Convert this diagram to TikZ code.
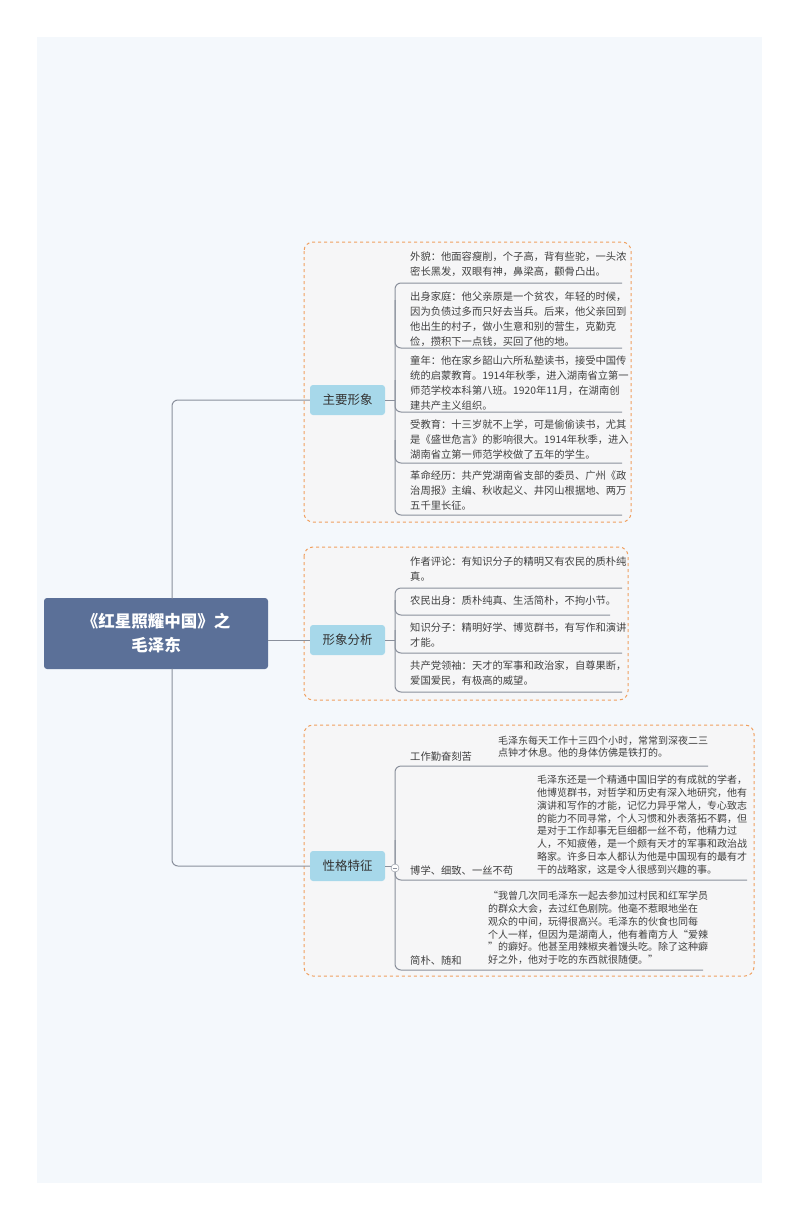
\documentclass[tikz,border=0pt]{standalone}
\usepackage{fontspec}
\setmainfont{Noto Sans CJK SC}
\definecolor{rootc}{HTML}{5B7098}
\definecolor{brc}{HTML}{A7D8EA}
\definecolor{bgc}{HTML}{F4F8FC}
\definecolor{grpf}{HTML}{F6F6F7}
\definecolor{linec}{HTML}{8A909C}
\definecolor{orc}{HTML}{F0A060}
\begin{document}
\begin{tikzpicture}[x=1pt,y=-1pt,
  conn/.style={draw=linec, line width=1pt, rounded corners=6pt},
  grp/.style={draw=orc, dashed, line width=1pt, rounded corners=9pt, fill=grpf},
  br/.style={fill=brc, text=black!80, rounded corners=3pt, minimum width=75pt, minimum height=30pt, font=\fontsize{12.5}{14}\selectfont, inner sep=0pt},
  lf/.style={anchor=north west, inner sep=0pt, align=left, text=black!75, font=\fontsize{10.3}{15}\selectfont},
  sl/.style={anchor=north west, inner sep=0pt, align=left, text=black!75, font=\fontsize{10}{12.8}\selectfont},
  lab/.style={anchor=base west, inner sep=0pt, text=black!75, font=\fontsize{10.3}{12}\selectfont}]
\useasboundingbox (0,0) rectangle (800,1220);
\fill[white] (0,0) rectangle (800,1220);
\fill[bgc] (37,37) rectangle (762,1183);
% groups
\draw[grp] (304,242) rectangle (631,522);
\draw[grp] (304,547) rectangle (628,700);
\draw[grp] (304,725) rectangle (754,976);
% root
\node[fill=rootc, text=white, rounded corners=3pt, minimum width=224pt, minimum height=71pt, align=center, font=\bfseries\fontsize{16.5}{24}\selectfont] (root) at (156,633.5) {《红星照耀中国》之\\毛泽东};
\node[br] (b1) at (347.5,400) {主要形象};
\node[br] (b2) at (347.5,640) {形象分析};
\node[br] (b3) at (347.5,866) {性格特征};
\coordinate (rt) at (172,598.5);
\draw[conn] (rt) |- (b1.west);
\coordinate (rb) at (172,668.5);
\draw[conn] (rb) |- (b3.west);
\draw[conn] (root.east |- b2) -- (b2.west);
% group 1
\coordinate (g1a) at (395,283); \coordinate (g1ae) at (622,283);
\coordinate (g1b) at (395,348); \coordinate (g1be) at (622,348);
\coordinate (g1c) at (395,412); \coordinate (g1ce) at (622,412);
\coordinate (g1d) at (395,463); \coordinate (g1de) at (622,463);
\coordinate (g1e) at (395,515); \coordinate (g1ee) at (622,515);
\draw[conn] (b1.east) -- (395,400);
\draw[conn] (g1ae) -- (g1a) -- (g1e) -- (g1ee);
\draw[conn] (395,300) |- (g1be);
\draw[conn] (395,380) |- (g1ce);
\draw[conn] (395,440) |- (g1de);
\node[lf] (t11) at (410,252) {外貌：他面容瘦削，个子高，背有些驼，一头浓\\密长黑发，双眼有神，鼻梁高，颧骨凸出。};
\node[lf] (t12) at (410,292) {出身家庭：他父亲原是一个贫农，年轻的时候，\\因为负债过多而只好去当兵。后来，他父亲回到\\他出生的村子，做小生意和别的营生，克勤克\\俭，攒积下一点钱，买回了他的地。};
\node[lf] (t13) at (410,356) {童年：他在家乡韶山六所私塾读书，接受中国传\\统的启蒙教育。1914年秋季，进入湖南省立第一\\师范学校本科第八班。1920年11月，在湖南创\\建共产主义组织。};
\node[lf] (t14) at (410,420) {受教育：十三岁就不上学，可是偷偷读书，尤其\\是《盛世危言》的影响很大。1914年秋季，进入\\湖南省立第一师范学校做了五年的学生。};
\node[lf] (t15) at (410,471) {革命经历：共产党湖南省支部的委员、广州《政\\治周报》主编、秋收起义、井冈山根据地、两万\\五千里长征。};
% group 2
\coordinate (g2a) at (395,588); \coordinate (g2ae) at (622,588);
\coordinate (g2b) at (395,615); \coordinate (g2be) at (610,615);
\coordinate (g2c) at (395,653); \coordinate (g2ce) at (622,653);
\coordinate (g2d) at (395,692); \coordinate (g2de) at (622,692);
\draw[conn] (b2.east) -- (395,640);
\draw[conn] (g2ae) -- (g2a) -- (g2d) -- (g2de);
\draw[conn] (395,600) |- (g2be);
\draw[conn] (395,630) |- (g2ce);
\node[lf] (t21) at (410,557) {作者评论：有知识分子的精明又有农民的质朴纯\\真。};
\node[lf] (t22) at (410,596) {农民出身：质朴纯真、生活简朴，不拘小节。};
\node[lf] (t23) at (410,623) {知识分子：精明好学、博览群书，有写作和演讲\\才能。};
\node[lf] (t24) at (410,661) {共产党领袖：天才的军事和政治家，自尊果断，\\爱国爱民，有极高的威望。};
% group 3
\coordinate (g3a) at (395,766); \coordinate (g3ae) at (708,766);
\coordinate (g3b) at (395,880); \coordinate (g3be) at (747,880);
\coordinate (g3c) at (395,970); \coordinate (g3ce) at (703,970);
\draw[conn] (b3.east) -- (395,866);
\draw[conn] (g3ae) -- (g3a) -- (g3c) -- (g3ce);
\draw[conn] (395,840) |- (g3be);
\node[circle, draw=linec, fill=white, inner sep=0pt, minimum size=8pt] (col) at (395,868) {};
\draw[linec, line width=0.6pt] (col.west) ++(1.8,0) -- ++(4.4,0);
\node[lab] (l31) at (410,760) {工作勤奋刻苦};
\node[lab] (l32) at (410,874) {博学、细致、一丝不苟};
\node[lab] (l33) at (410,964) {简朴、随和};
\node[sl] (t31) at (498,735.5) {毛泽东每天工作十三四个小时，常常到深夜二三\\点钟才休息。他的身体仿佛是铁打的。};
\node[sl] (t32) at (537,775) {毛泽东还是一个精通中国旧学的有成就的学者，\\他博览群书，对哲学和历史有深入地研究，他有\\演讲和写作的才能，记忆力异乎常人，专心致志\\的能力不同寻常，个人习惯和外表落拓不羁，但\\是对于工作却事无巨细都一丝不苟，他精力过\\人，不知疲倦，是一个颇有天才的军事和政治战\\略家。许多日本人都认为他是中国现有的最有才\\干的战略家，这是令人很感到兴趣的事。};
\node[sl] (t33) at (488,891) {“我曾几次同毛泽东一起去参加过村民和红军学员\\的群众大会，去过红色剧院。他毫不惹眼地坐在\\观众的中间，玩得很高兴。毛泽东的伙食也同每\\个人一样，但因为是湖南人，他有着南方人“爱辣\\”的癖好。他甚至用辣椒夹着馒头吃。除了这种癖\\好之外，他对于吃的东西就很随便。”};
\end{tikzpicture}
\end{document}
